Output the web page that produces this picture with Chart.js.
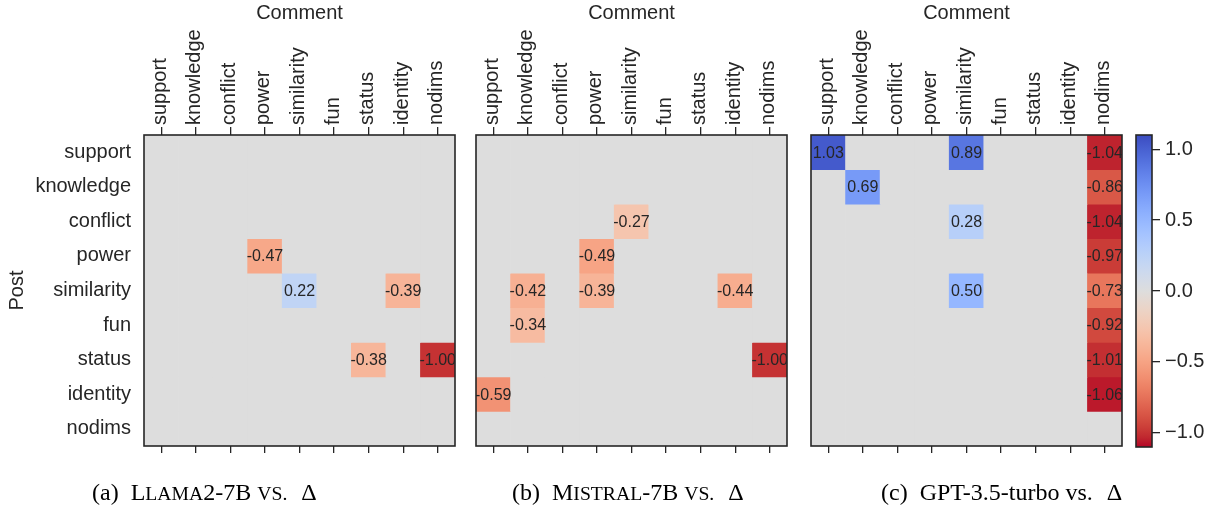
<!DOCTYPE html>
<html><head><meta charset="utf-8">
<script src="https://cdn.jsdelivr.net/npm/chart.js@4.4.1/dist/chart.umd.min.js"></script>
<style>
html,body{margin:0;padding:0;background:#fff;width:1212px;height:506px;overflow:hidden;}
canvas{position:absolute;left:0;top:0;}
.cap{position:absolute;top:480px;font-family:'Liberation Serif','Times New Roman',serif;font-size:24px;line-height:24px;color:#000;white-space:nowrap;}
.sm{font-size:0.82em;text-transform:uppercase;}
.g1{display:inline-block;width:12px;}
.g2{display:inline-block;width:14px;}
</style></head><body>
<canvas id="c1" width="1212" height="506"></canvas>
<canvas id="c2" width="1212" height="506"></canvas>
<canvas id="c3" width="1212" height="506"></canvas>
<canvas id="cb" width="1212" height="506"></canvas>
<div class="cap" style="left:92px">(a)<span class="g1"></span>L<span class="sm">lama</span>2-7B <span class="sm">vs.</span><span class="g2"></span>Δ</div>
<div class="cap" style="left:512px">(b)<span class="g1"></span>M<span class="sm">istral</span>-7B <span class="sm">vs.</span><span class="g2"></span>Δ</div>
<div class="cap" style="left:881px">(c)<span class="g1"></span>GPT-3.5-turbo vs.<span class="g2"></span>Δ</div>
<script>
// ---- data ----
const postLabels = ['support','knowledge','conflict','power','similarity','fun','status','identity','nodims'];
const commentLabels = ['support','knowledge','conflict','power','similarity','fun','status','identity','nodims'];

// rows = Post, columns = Comment
const llamaValues = [
  [0,0,0,0,0,0,0,0,0],
  [0,0,0,0,0,0,0,0,0],
  [0,0,0,0,0,0,0,0,0],
  [0,0,0,-0.47,0,0,0,0,0],
  [0,0,0,0,0.22,0,0,-0.39,0],
  [0,0,0,0,0,0,0,0,0],
  [0,0,0,0,0,0,-0.38,0,-1.00],
  [0,0,0,0,0,0,0,0,0],
  [0,0,0,0,0,0,0,0,0]
];
const mistralValues = [
  [0,0,0,0,0,0,0,0,0],
  [0,0,0,0,0,0,0,0,0],
  [0,0,0,0,-0.27,0,0,0,0],
  [0,0,0,-0.49,0,0,0,0,0],
  [0,-0.42,0,-0.39,0,0,0,-0.44,0],
  [0,-0.34,0,0,0,0,0,0,0],
  [0,0,0,0,0,0,0,0,-1.00],
  [-0.59,0,0,0,0,0,0,0,0],
  [0,0,0,0,0,0,0,0,0]
];
const gptValues = [
  [1.03,0,0,0,0.89,0,0,0,-1.04],
  [0,0.69,0,0,0,0,0,0,-0.86],
  [0,0,0,0,0.28,0,0,0,-1.04],
  [0,0,0,0,0,0,0,0,-0.97],
  [0,0,0,0,0.50,0,0,0,-0.73],
  [0,0,0,0,0,0,0,0,-0.92],
  [0,0,0,0,0,0,0,0,-1.01],
  [0,0,0,0,0,0,0,0,-1.06],
  [0,0,0,0,0,0,0,0,0]
];
const colorbarTicks = [-1.0,-0.5,0.0,0.5,1.0];
const colorMin = -1.1, colorMax = 1.1;

// ---- coolwarm colormap (Moreland table), used reversed ----
const coolwarm = [
[59,76,192],[68,90,204],[77,104,215],[87,117,225],[98,130,234],[108,142,241],[119,154,247],[130,165,251],
[141,176,254],[152,185,255],[163,194,255],[174,201,253],[184,208,249],[194,213,244],[204,217,238],[213,219,230],
[221,221,221],[229,216,209],[236,211,197],[241,204,185],[245,196,173],[247,187,160],[247,177,148],[247,166,135],
[244,154,123],[241,141,111],[236,127,99],[229,112,88],[222,96,77],[213,80,66],[203,62,56],[192,40,47],[180,4,38]];
function cw(t){
  t = Math.max(0, Math.min(1, t));
  const n = coolwarm.length - 1, f = t * n, k = Math.min(n - 1, Math.floor(f)), r = f - k;
  const a = coolwarm[k], b = coolwarm[k+1];
  return 'rgb(' + a.map((c,i)=>Math.round(c + (b[i]-c)*r)).join(',') + ')';
}
function cmap(v){ return cw(1 - (v - colorMin)/(colorMax - colorMin)); }

const FONT = "'Liberation Sans', Arial, Helvetica, sans-serif";
const TXT = '#262626';

const framePlugin = {
  id: 'frame',
  afterDraw(chart){
    const a = chart.chartArea, c = chart.ctx;
    c.save(); c.strokeStyle = TXT; c.lineWidth = 1.6;
    c.strokeRect(a.left, a.top, a.right - a.left, a.bottom - a.top);
    c.restore();
  }
};
function annotPlugin(values){
  return {
    id: 'annot',
    afterDatasetsDraw(chart){
      const c = chart.ctx, x = chart.scales.x, y = chart.scales.y, a = chart.chartArea;
      c.save();
      c.beginPath(); c.rect(a.left, a.top, a.right - a.left, a.bottom - a.top); c.clip();
      c.font = '16px ' + FONT; c.fillStyle = TXT; c.textAlign = 'center'; c.textBaseline = 'middle';
      values.forEach((row, i) => row.forEach((v, j) => {
        if (v !== 0) c.fillText(v.toFixed(2), x.getPixelForValue(j), y.getPixelForValue(i + 0.5) + 1);
      }));
      c.restore();
    }
  };
}

function panel(id, values, leftPx, showY){
  const right = leftPx + 311;
  return new Chart(document.getElementById(id), {
    type: 'bar',
    data: {
      labels: commentLabels,
      datasets: postLabels.map((p, i) => ({
        label: p,
        data: commentLabels.map(() => [i, i + 1]),
        backgroundColor: values[i].map(cmap),
        borderWidth: 0,
        barPercentage: 1, categoryPercentage: 1, grouped: false,
        xAxisID: 'x', yAxisID: 'y'
      }))
    },
    options: {
      responsive: false, animation: false, events: [],
      layout: { padding: { left: showY ? 0 : leftPx, top: 0, right: 1212 - right, bottom: 506 - 446 - 7 } },
      plugins: { legend: { display: false }, tooltip: { enabled: false } },
      scales: {
        x: {
          type: 'category', position: 'top', offset: true,
          grid: { display: true, drawOnChartArea: false, drawTicks: true, tickLength: 8, offset: false, color: TXT, lineWidth: 1.3 },
          border: { display: false },
          ticks: { autoSkip: false, minRotation: 90, maxRotation: 90, padding: 2, labelOffset: 23, color: TXT, font: { family: FONT, size: 20 } },
          title: { display: true, text: 'Comment', color: TXT, font: { family: FONT, size: 20 }, padding: { top: 1, bottom: 0 } },
          afterFit: s => { s.height = 135; }
        },
        x2: {
          type: 'category', position: 'bottom', labels: commentLabels, offset: true,
          grid: { display: true, drawOnChartArea: false, drawTicks: true, tickLength: 7, offset: false, color: TXT, lineWidth: 1.3 },
          border: { display: false },
          ticks: { display: false },
          afterFit: s => { s.height = 7; }
        },
        y: {
          type: 'linear', min: 0, max: 9, reverse: true, display: showY, position: 'left',
          grid: { display: false, drawTicks: false },
          border: { display: false },
          afterBuildTicks: s => { s.ticks = postLabels.map((p, i) => ({ value: i + 0.5 })); },
          ticks: { autoSkip: false, padding: 13, color: TXT, font: { family: FONT, size: 20 }, callback: v => postLabels[Math.floor(v)] },
          title: { display: true, text: 'Post', color: TXT, font: { family: FONT, size: 20 }, padding: { top: 5, bottom: 0 } },
          afterFit: s => { if (showY) s.width = 144; }
        }
      }
    },
    plugins: [annotPlugin(values), framePlugin]
  });
}

panel('c1', llamaValues, 144, true);
panel('c2', mistralValues, 476, false);
panel('c3', gptValues, 811, false);

new Chart(document.getElementById('cb'), {
  type: 'bar',
  data: {
    labels: ['cb'],
    datasets: [{
      data: [[colorMin, colorMax]],
      backgroundColor: (ctx) => {
        const chart = ctx.chart;
        if (!chart.chartArea) return '#ddd';
        const ys = chart.scales.y;
        const g = chart.ctx.createLinearGradient(0, ys.getPixelForValue(colorMin), 0, ys.getPixelForValue(colorMax));
        coolwarm.forEach((c, k) => g.addColorStop(1 - k / (coolwarm.length - 1), 'rgb(' + c.join(',') + ')'));
        return g;
      },
      borderWidth: 0, barPercentage: 1, categoryPercentage: 1
    }]
  },
  options: {
    responsive: false, animation: false, events: [],
    layout: { padding: { left: 1136, top: 135, right: 0, bottom: 506 - 447 } },
    plugins: { legend: { display: false }, tooltip: { enabled: false } },
    scales: {
      x: { display: false },
      y: {
        min: colorMin, max: colorMax, position: 'right',
        afterBuildTicks: s => { s.ticks = colorbarTicks.map(v => ({ value: v })); },
        ticks: { padding: 5, color: TXT, font: { family: FONT, size: 20 },
          callback: v => (v < 0 ? '\u2212' + Math.abs(v).toFixed(1) : v.toFixed(1)) },
        grid: { display: true, drawOnChartArea: false, drawTicks: true, tickLength: 8, color: TXT, lineWidth: 1.3 },
        border: { display: false },
        afterFit: s => { s.width = 1212 - 1152; }
      }
    }
  },
  plugins: [framePlugin]
});
</script>
</body></html>
